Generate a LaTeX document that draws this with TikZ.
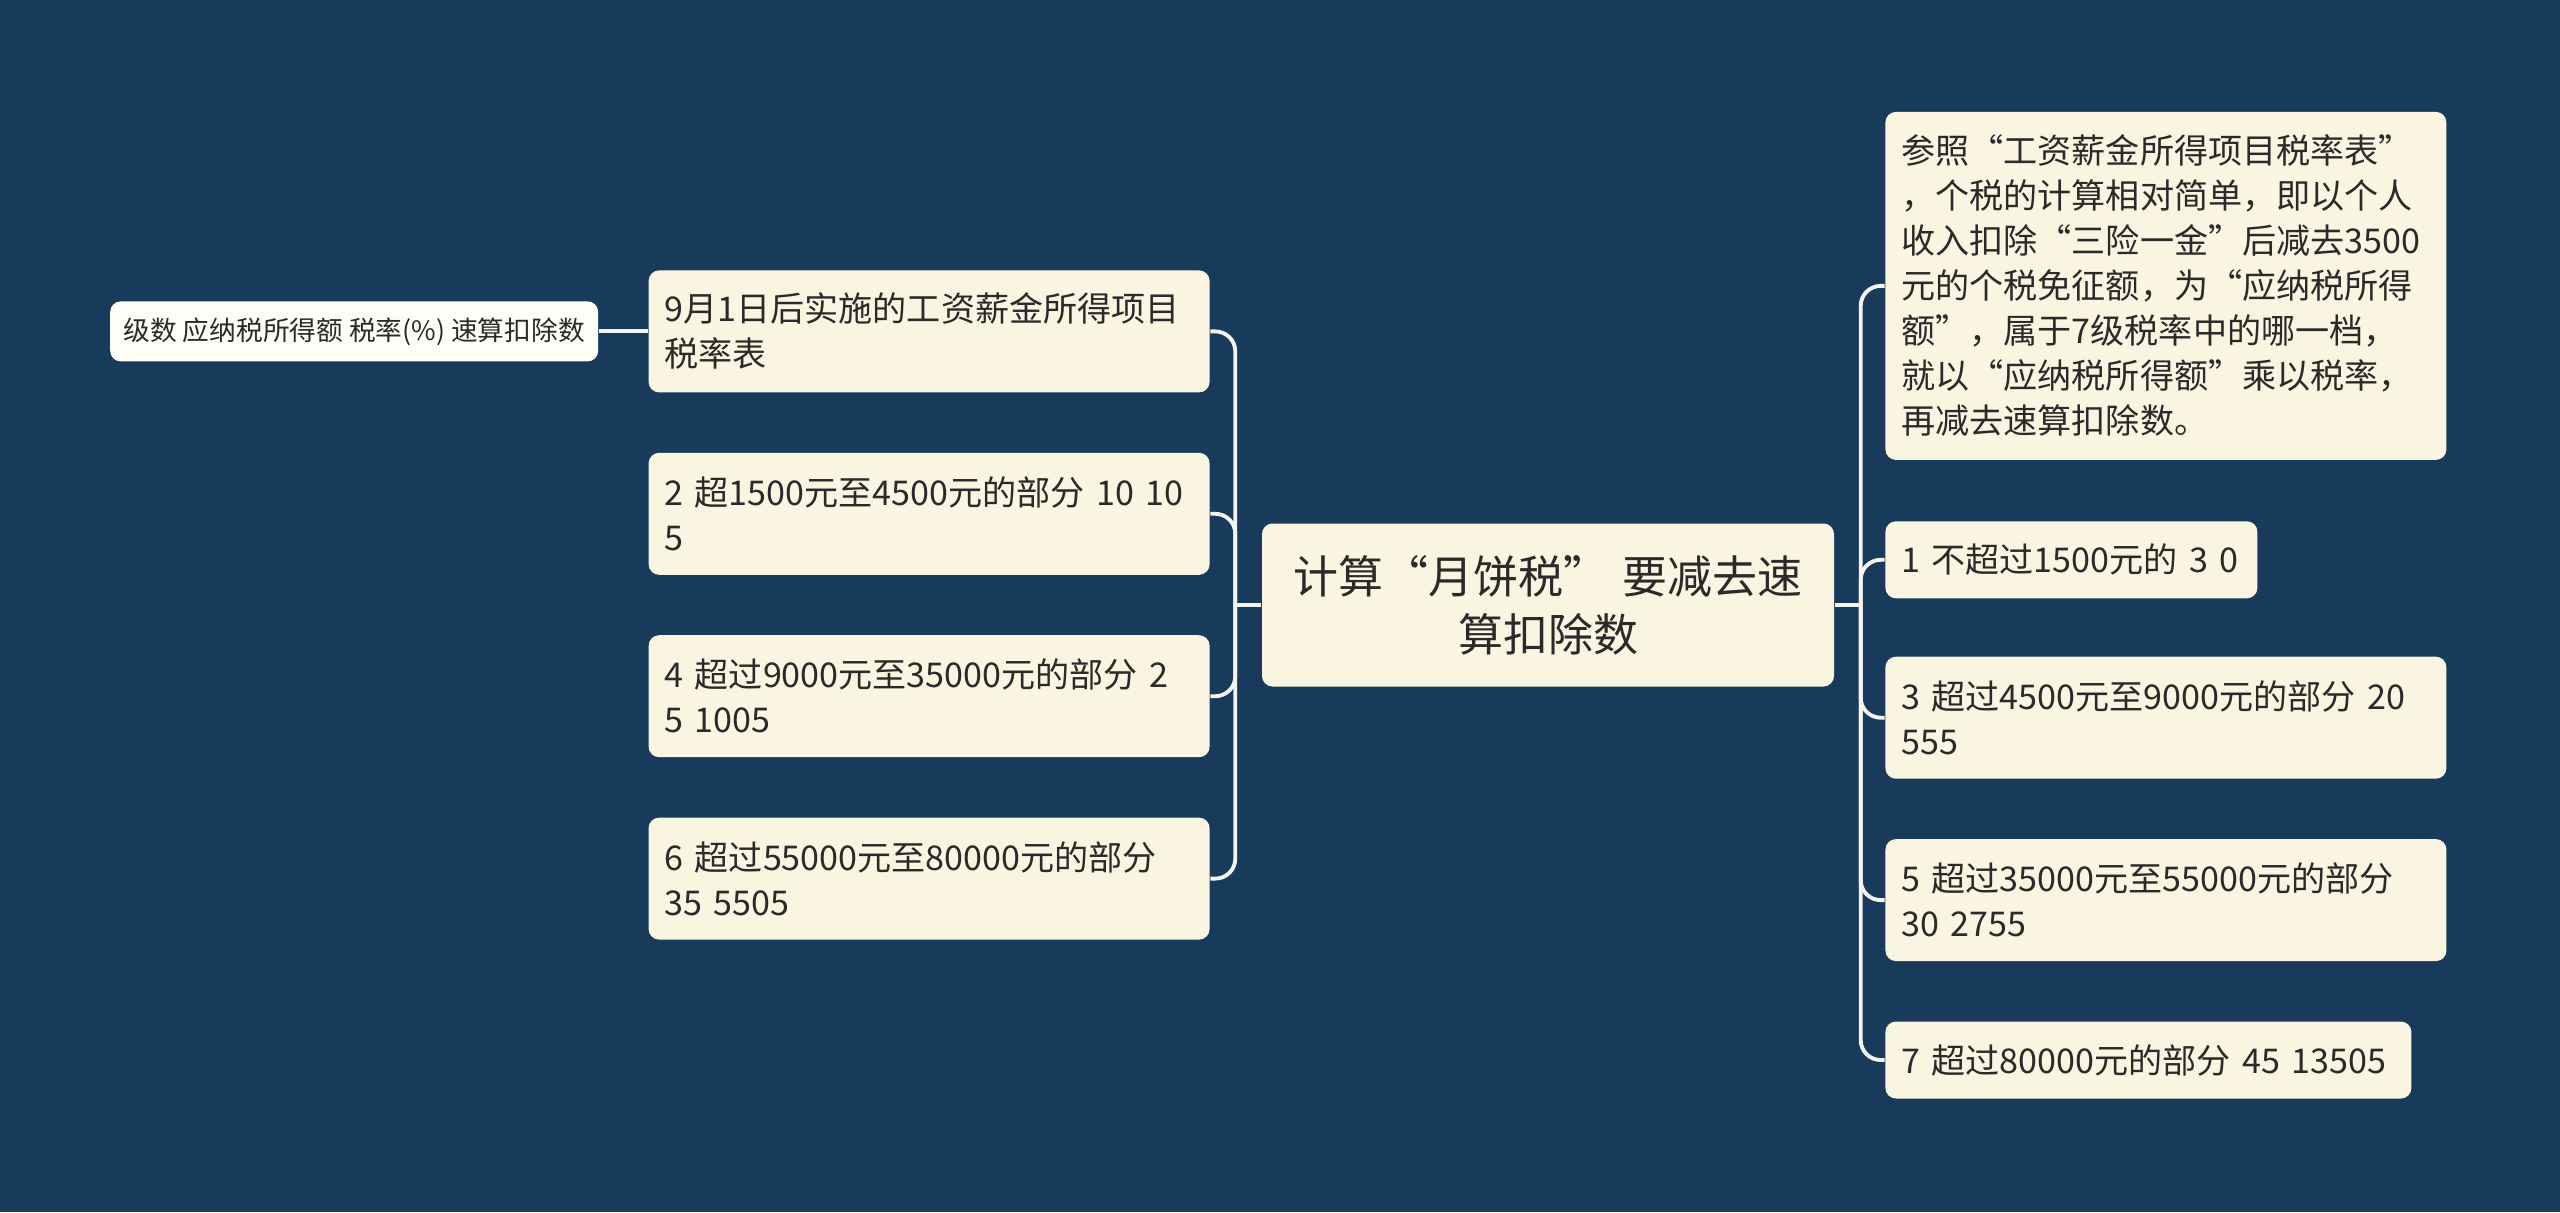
\documentclass[tikz,border=0pt]{standalone}
\usepackage{fontspec}
\newfontfamily\cjk{Noto Sans CJK SC}
\usetikzlibrary{positioning}
\definecolor{navy}{HTML}{183B5C}
\definecolor{cream}{HTML}{FAF5E0}
\definecolor{paper}{HTML}{FFFDF7}
\definecolor{ink}{HTML}{2A2A2A}
\definecolor{wire}{HTML}{F4F4F0}
\tikzset{
  rootbox/.style={rectangle,rounded corners=3pt,fill=cream,text=ink,align=center,
    font=\cjk\fontsize{12.8}{16.5}\selectfont,
    text width=5.4cm,inner xsep=0.16cm,inner ysep=0.2cm,minimum height=1.63cm},
  itembox/.style={rectangle,rounded corners=3pt,fill=cream,text=ink,align=left,
    font=\cjk\fontsize{9.7}{12.8}\selectfont,
    text width=5.29cm,inner xsep=0.16cm,inner ysep=0.2cm,minimum height=1.22cm},
  headbox/.style={rectangle,rounded corners=3pt,fill=paper,text=ink,align=center,
    font=\cjk\fontsize{7.6}{9}\selectfont,
    minimum width=4.88cm,inner xsep=0.1cm,inner ysep=0.1cm,minimum height=0.6cm},
  maplink/.style={draw=wire,line width=1.1pt,rounded corners=0.2cm},
}
\begin{document}
\begin{tikzpicture}[node distance=0.59cm and 0.5cm]
  \fill[navy] (0,0) rectangle (25.6,-12.12);
  \useasboundingbox (0,0) rectangle (25.6,-12.12);

  \node[rootbox] (calc) at (15.48,-6.05) {计算“月饼税” 要减去速\\算扣除数};

  \node[itembox, above left=0.295cm and 0.51cm of calc.west] (lv2) {2 超1500元至4500元的部分 10 10\\5};
  \node[itembox, above=of lv2] (tbl) {9月1日后实施的工资薪金所得项目\\税率表};
  \node[itembox, below=of lv2] (lv4) {4 超过9000元至35000元的部分 2\\5 1005};
  \node[itembox, below=of lv4] (lv6) {6 超过55000元至80000元的部分\\35 5505};
  \node[headbox, left=0.49cm of tbl] (hdr) {级数 应纳税所得额 税率(\%) 速算扣除数};

  \node[itembox, text width=3.40cm, minimum height=0.77cm, above right=0.06cm and 0.5cm of calc.east] (lv1) {1 不超过1500元的 3 0};
  \node[itembox, minimum height=3.48cm, above right=0.6cm and 0cm of lv1.north west] (ref) {参照“工资薪金所得项目税率表”\\，个税的计算相对简单，即以个人\\收入扣除“三险一金”后减去3500\\元的个税免征额，为“应纳税所得\\额”，属于7级税率中的哪一档，\\就以“应纳税所得额”乘以税率，\\再减去速算扣除数。};
  \node[itembox, below right=0.57cm and 0cm of lv1.south west] (lv3) {3 超过4500元至9000元的部分 20\\555};
  \node[itembox, below right=0.59cm and 0cm of lv3.south west] (lv5) {5 超过35000元至55000元的部分\\30 2755};
  \node[itembox, text width=4.94cm, minimum height=0.77cm, below right=0.59cm and 0cm of lv5.south west] (lv7) {7 超过80000元的部分 45 13505};

  \coordinate[left=0.26cm of calc.west] (lsp);
  \coordinate[right=0.26cm of calc.east] (rsp);

  \draw[maplink] (calc.west) -- (lsp);
  \draw[maplink] (lsp) |- (tbl.east);
  \draw[maplink] (lsp) |- (lv2.east);
  \draw[maplink] (lsp) |- (lv4.east);
  \draw[maplink] (lsp) |- (lv6.east);
  \draw[maplink] (tbl.west) -- (hdr.east);

  \draw[maplink] (calc.east) -- (rsp);
  \draw[maplink] (rsp) |- (ref.west);
  \draw[maplink] (rsp) |- (lv1.west);
  \draw[maplink] (rsp) |- (lv3.west);
  \draw[maplink] (rsp) |- (lv5.west);
  \draw[maplink] (rsp) |- (lv7.west);
\end{tikzpicture}
\end{document}
